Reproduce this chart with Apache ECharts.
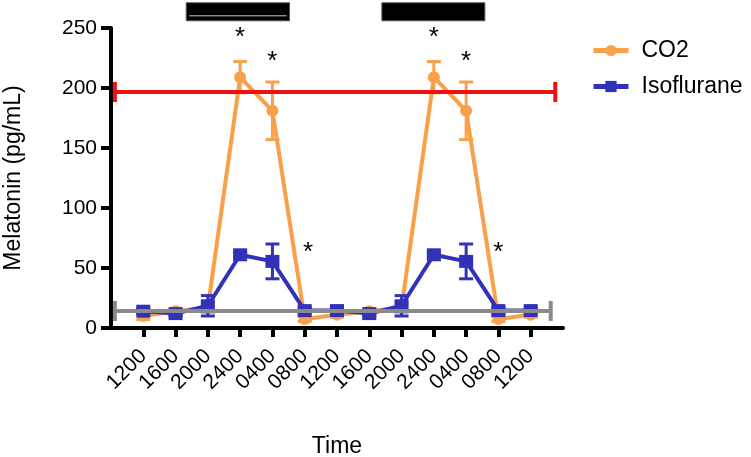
<!DOCTYPE html>
<html><head><meta charset="utf-8">
<script src="https://cdn.jsdelivr.net/npm/echarts@6/dist/echarts.min.js"></script>
<style>html,body{margin:0;padding:0;background:#fff}#c{width:751px;height:457px}</style>
</head><body><div id="c"></div>
<script>
// ---- data ----
var tickLabels = ['1200','1600','2000','2400','0400','0800','1200','1600','2000','2400','0400','0800','1200'];
var co2Mean = [10, 14, 17, 209, 181, 7.5, 11, 14, 17, 209, 181, 7.5, 11];
var co2Err  = [3, 2, 4, 13, 24, 2, 2, 2, 4, 13, 24, 2, 2];
var isoMean = [14, 12, 18.5, 61, 55.5, 14.5, 14.5, 12, 18.5, 61, 55.5, 14.5, 14.5];
var isoErr  = [2, 2, 8.5, 2, 14.5, 2, 2, 2, 8.5, 2, 14.5, 2, 2];
var refRed  = [0.12, 13.76, 196.7];   // start, end, value
var refGray = [0.12, 13.62, 14.2];
var nightBars = [[2.33, 5.53], [8.39, 11.58]];
var nightBarY = [256, 271];
var asterisks = [[4, 241.5], [5, 222], [6.1, 62.7], [10, 241.5], [11, 222], [12, 63]];
var yTicks = [0, 50, 100, 150, 200, 250];

var ORANGE = '#F9A04B', BLUE = '#3232B8', RED = '#EE1111', GRAY = '#8A8A8A';
var FONT = 'Liberation Sans';

function pts(arr){ return arr.map(function(v,i){ return [i+1, v]; }); }
function errData(m, e){ return m.map(function(v,i){ return [i+1, v, e[i]]; }); }
function errRender(color){
  return function(params, api){
    var x = api.value(0), y = api.value(1), e = api.value(2);
    var t = api.coord([x, y+e]), b = api.coord([x, y-e]);
    var hw = 7;
    var st = {stroke: color, lineWidth: 3};
    return {type:'group', children:[
      {type:'line', shape:{x1:t[0], y1:t[1], x2:b[0], y2:b[1]}, style:st},
      {type:'line', shape:{x1:t[0]-hw, y1:t[1], x2:t[0]+hw, y2:t[1]}, style:st},
      {type:'line', shape:{x1:b[0]-hw, y1:b[1], x2:b[0]+hw, y2:b[1]}, style:st}
    ]};
  };
}
function refRender(color){
  return function(params, api){
    var s = api.coord([api.value(0), api.value(2)]);
    var e = api.coord([api.value(1), api.value(2)]);
    var st = {stroke: color, lineWidth: 4};
    return {type:'group', children:[
      {type:'line', shape:{x1:s[0], y1:s[1], x2:e[0], y2:e[1]}, style:st},
      {type:'line', shape:{x1:s[0], y1:s[1]-10, x2:s[0], y2:s[1]+10}, style:st},
      {type:'line', shape:{x1:e[0], y1:e[1]-10, x2:e[0], y2:e[1]+10}, style:st}
    ]};
  };
}

var chart = echarts.init(document.getElementById('c'), null, {renderer:'canvas'});
chart.setOption({
  animation: false,
  backgroundColor: '#fff',
  grid: {left: 111, right: 188, top: 28, bottom: 129, containLabel: false, outerBoundsMode: 'none'},
  legend: {
    data: ['CO2', 'Isoflurane'],
    orient: 'vertical', left: 586, top: 34,
    itemWidth: 35, itemHeight: 14, itemGap: 13,
    lineStyle: {width: 5},
    textStyle: {fontFamily: FONT, fontSize: 23, color: '#000', padding: [0,0,0,8]}
  },
  xAxis: {
    type: 'value', min: 0, max: 14, interval: 1,
    name: 'Time', nameLocation: 'middle', nameGap: 107,
    nameTextStyle: {fontFamily: FONT, fontSize: 23, color: '#000'},
    axisLine: {lineStyle: {color: '#000', width: 4}},
    axisTick: {show: true, length: 9, lineStyle: {color: '#000', width: 4},
      customValues: tickLabels.map(function(_, i){ return i+1; })},
    axisLabel: {fontFamily: FONT, fontSize: 21, color: '#000', rotate: 45, margin: 25,
      customValues: tickLabels.map(function(_, i){ return i+1; }),
      formatter: function(v){ return tickLabels[Math.round(v)-1] || ''; }},
    splitLine: {show: false}
  },
  yAxis: {
    type: 'value', min: 0, max: 250, interval: 50,
    name: 'Melatonin (pg/mL)', nameLocation: 'middle', nameGap: 86,
    nameTextStyle: {fontFamily: FONT, fontSize: 23, color: '#000'},
    axisLine: {show: true, lineStyle: {color: '#000', width: 4}},
    axisTick: {show: true, length: 10, lineStyle: {color: '#000', width: 4}},
    axisLabel: {fontFamily: FONT, fontSize: 21, color: '#000', margin: 14,
      formatter: function(v){ return yTicks.indexOf(v) >= 0 ? String(v) : ''; }},
    splitLine: {show: false}
  },
  series: [
    {name: 'CO2', type: 'line', data: pts(co2Mean), symbol: 'circle', symbolSize: 12,
      lineStyle: {color: ORANGE, width: 4}, itemStyle: {color: ORANGE}, z: 2},
    {name: 'co2err', type: 'custom', data: errData(co2Mean, co2Err), renderItem: errRender(ORANGE), z: 2},
    {name: 'Isoflurane', type: 'line', data: pts(isoMean), symbol: 'rect', symbolSize: [14, 13],
      lineStyle: {color: BLUE, width: 4}, itemStyle: {color: BLUE}, z: 3},
    {name: 'isoerr', type: 'custom', data: errData(isoMean, isoErr), renderItem: errRender(BLUE), z: 3},
    {name: 'refRed', type: 'custom', data: [refRed], renderItem: refRender(RED), z: 4},
    {name: 'refGray', type: 'custom', data: [refGray], renderItem: refRender(GRAY), z: 4},
    {name: 'night', type: 'custom', clip: false, z: 5,
      data: nightBars.map(function(b){ return [b[0], b[1], nightBarY[0], nightBarY[1]]; }),
      renderItem: function(params, api){
        var p1 = api.coord([api.value(0), api.value(3)]);
        var p2 = api.coord([api.value(1), api.value(2)]);
        var children = [{type:'rect', shape:{x:p1[0], y:p1[1], width:p2[0]-p1[0], height:p2[1]-p1[1]},
          style:{fill:'#000', stroke:'#555', lineWidth:1}}];
        if (params.dataIndex === 0) {
          children.push({type:'line', shape:{x1:p1[0]+3, y1:p2[1]-5, x2:p2[0]-3, y2:p2[1]-5},
            style:{stroke:'#ccc', lineWidth:1}});
        }
        return {type:'group', children: children};
      }},
    {name: 'stars', type: 'custom', clip: false, z: 6, data: asterisks,
      renderItem: function(params, api){
        var p = api.coord([api.value(0), api.value(1)]);
        return {type:'text', x: p[0], y: p[1],
          style:{text:'*', fontFamily: FONT, fontSize: 26, fill:'#000', align:'center', verticalAlign:'middle'}};
      }}
  ]
});
</script></body></html>
